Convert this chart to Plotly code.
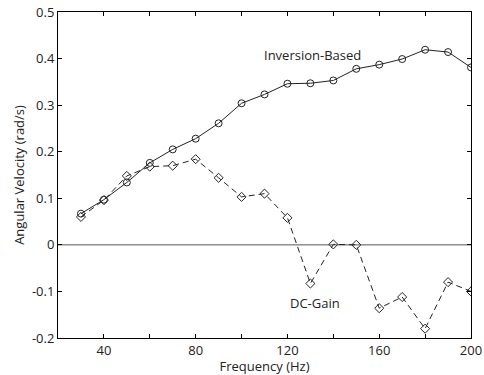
import plotly.graph_objects as go

freq = [30, 40, 50, 60, 70, 80, 90, 100, 110, 120, 130, 140, 150, 160, 170, 180, 190, 200]
inversion_based = [0.067, 0.097, 0.134, 0.176, 0.205, 0.228, 0.261, 0.304, 0.323, 0.346, 0.347, 0.353, 0.378, 0.387, 0.399, 0.419, 0.414, 0.381]
dc_gain = [0.060, 0.096, 0.148, 0.168, 0.170, 0.184, 0.144, 0.103, 0.110, 0.058, -0.083, 0.001, 0.000, -0.136, -0.112, -0.180, -0.080, -0.100]

x_tickvals = [20, 40, 60, 80, 100, 120, 140, 160, 180, 200]
x_ticktext = ["", "40", "", "80", "", "120", "", "160", "", "200"]
y_tickvals = [-0.2, -0.1, 0, 0.1, 0.2, 0.3, 0.4, 0.5]
y_ticktext = ["-0.2", "-0.1", "0", "0.1", "0.2", "0.3", "0.4", "0.5"]

FONT = "Open Sans, Liberation Sans, sans-serif"
TXT = "#222222"

fig = go.Figure()
fig.add_trace(go.Scatter(
    x=[20, 200], y=[0, 0], mode="lines",
    line=dict(color="#555555", width=1), showlegend=False, hoverinfo="skip"))
fig.add_trace(go.Scatter(
    x=freq, y=inversion_based, mode="lines+markers", name="Inversion-Based",
    line=dict(color="#222222", width=1),
    marker=dict(symbol="circle-open", size=7, color="#222222", line=dict(width=1)),
    showlegend=False))
fig.add_trace(go.Scatter(
    x=freq, y=dc_gain, mode="lines+markers", name="DC-Gain",
    line=dict(color="#222222", width=1, dash="6px,4px"),
    marker=dict(symbol="diamond-open", size=7, color="#222222", line=dict(width=1)),
    showlegend=False))

fig.add_annotation(x=130.8, y=0.408, text="Inversion-Based", showarrow=False,
                   font=dict(family=FONT, size=13, color=TXT))
fig.add_annotation(x=132, y=-0.125, text="DC-Gain", showarrow=False,
                   font=dict(family=FONT, size=13, color=TXT))

axis_common = dict(showgrid=False, zeroline=False, showline=True, linecolor="#000000",
                   linewidth=1, mirror="allticks", ticks="inside", ticklen=4,
                   tickcolor="#000000", automargin=False, ticklabeloverflow="allow",
                   tickfont=dict(family=FONT, size=13, color=TXT))

fig.update_xaxes(range=[20, 200], tickvals=x_tickvals, ticktext=x_ticktext,
                 title=dict(text="Frequency (Hz)", font=dict(family=FONT, size=13, color=TXT), standoff=0),
                 **axis_common)
fig.update_yaxes(range=[-0.2, 0.5], tickvals=y_tickvals, ticktext=y_ticktext,
                 title=dict(text="Angular Velocity (rad/s)", font=dict(family=FONT, size=13, color=TXT), standoff=4),
                 **axis_common)

fig.update_layout(width=484, height=375, margin=dict(l=58, r=13, t=12, b=37),
                  plot_bgcolor="white", paper_bgcolor="white",
                  font=dict(family=FONT))

fig.write_html("out.html", config={"displayModeBar": False},
               post_script="document.body.style.margin='0';document.body.style.overflow='hidden';")
